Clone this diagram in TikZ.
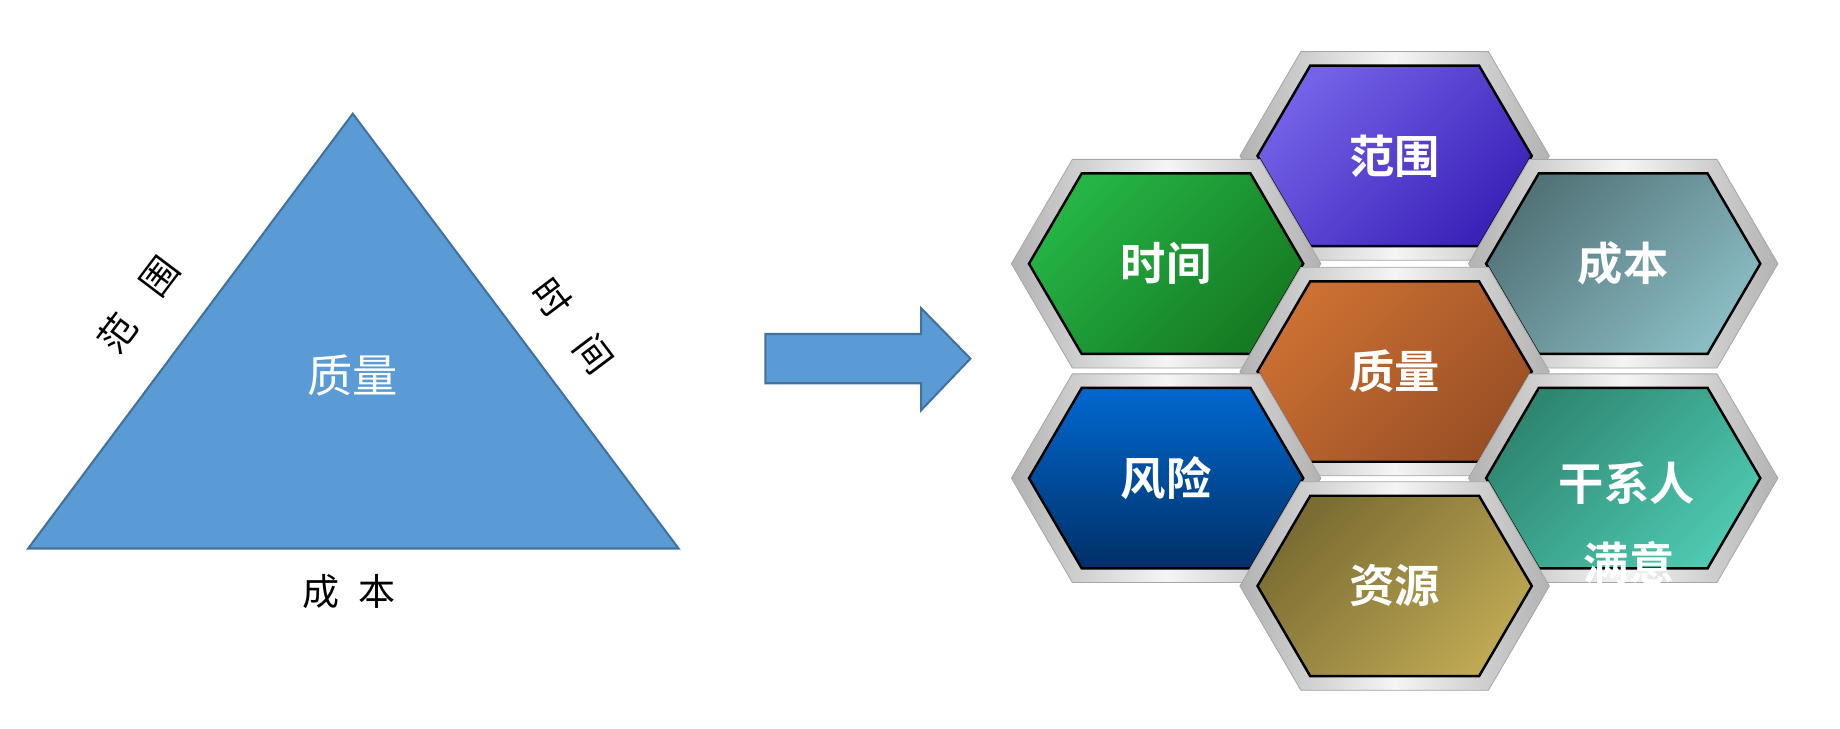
\documentclass[tikz,border=0pt]{standalone}
\usepackage{fontspec}
\newfontfamily\cjk{Noto Sans CJK SC}
\newfontfamily\cjkb{Noto Sans CJK SC Bold}
\begin{document}
\begin{tikzpicture}[x=0.02cm,y=-0.02cm,
  lbl/.style={font=\cjk\fontsize{18}{18}\selectfont,text=black},
  hexlbl/.style={font=\cjkb\fontsize{22}{24}\selectfont,text=white},
  frame/.style={left color=gray!60,right color=gray!60,middle color=gray!8,draw=gray!70,line width=0.4pt},
  inner/.style={draw=black,line width=1.2pt}]
\useasboundingbox (0,0) rectangle (1570,622);
% triangle
\coordinate (A) at (301,97); \coordinate (B) at (24,468); \coordinate (C) at (579,468);
\fill[fill={rgb,255:red,91;green,155;blue,213},draw={rgb,255:red,65;green,113;blue,156},line width=1pt] (A)--(B)--(C)--cycle;
\node[font=\cjk\fontsize{22}{22}\selectfont,text=white] (q) at (301,320) {质量};
\node[lbl,rotate=53] (fw) at (118,260) {范\hspace{0.9em}围};
\node[lbl,rotate=-53] (sj) at (489,278) {时\hspace{0.9em}间};
\node[lbl] (cb) at (298,505) {成\hspace{0.5em}本};
% arrow
\fill[fill={rgb,255:red,91;green,155;blue,213},draw={rgb,255:red,65;green,113;blue,156},line width=1pt]
 (653,285)--(786,285)--(786,263)--(828,306)--(786,350)--(786,327)--(653,327)--cycle;
% hexagons
\newcommand\myhex[6]{%
  \begin{scope}[shift={(#1,#2)}]
  \path[frame] (-132,0)--(-80,-89)--(80,-89)--(132,0)--(80,89)--(-80,89)--cycle;
  \path[inner,top color=#3,bottom color=#4,shading angle=#6] (-117,0)--(-72,-77)--(72,-77)--(117,0)--(72,77)--(-72,77)--cycle;
  \end{scope}
  \node[hexlbl] at (#1,#2) {#5};}
\definecolor{c1a}{HTML}{7462E8}\definecolor{c1b}{HTML}{3A22B8}
\definecolor{c2a}{HTML}{25B545}\definecolor{c2b}{HTML}{167A22}
\definecolor{c3a}{HTML}{527478}\definecolor{c3b}{HTML}{8ABCC4}
\definecolor{c4a}{HTML}{CC7033}\definecolor{c4b}{HTML}{9A5025}
\definecolor{c5a}{HTML}{0068D0}\definecolor{c5b}{HTML}{003068}
\definecolor{c6a}{HTML}{2E8670}\definecolor{c6b}{HTML}{4EC8B0}
\definecolor{c7a}{HTML}{7A6C32}\definecolor{c7b}{HTML}{BEA854}
\myhex{1190}{133}{c1a}{c1b}{范围}{45}
\myhex{995}{225}{c2a}{c2b}{时间}{45}
\myhex{1385}{225}{c3a}{c3b}{成本}{45}
\myhex{1190}{317}{c4a}{c4b}{质量}{45}
\myhex{995}{408}{c5a}{c5b}{风险}{0}
\myhex{1385}{408}{c6a}{c6b}{}{45}
\myhex{1190}{500}{c7a}{c7b}{资源}{45}
\node[hexlbl] (gx) at (1388,412) {干系人};
\node[hexlbl] (my) at (1390,480) {满意};
\end{tikzpicture}
\end{document}
